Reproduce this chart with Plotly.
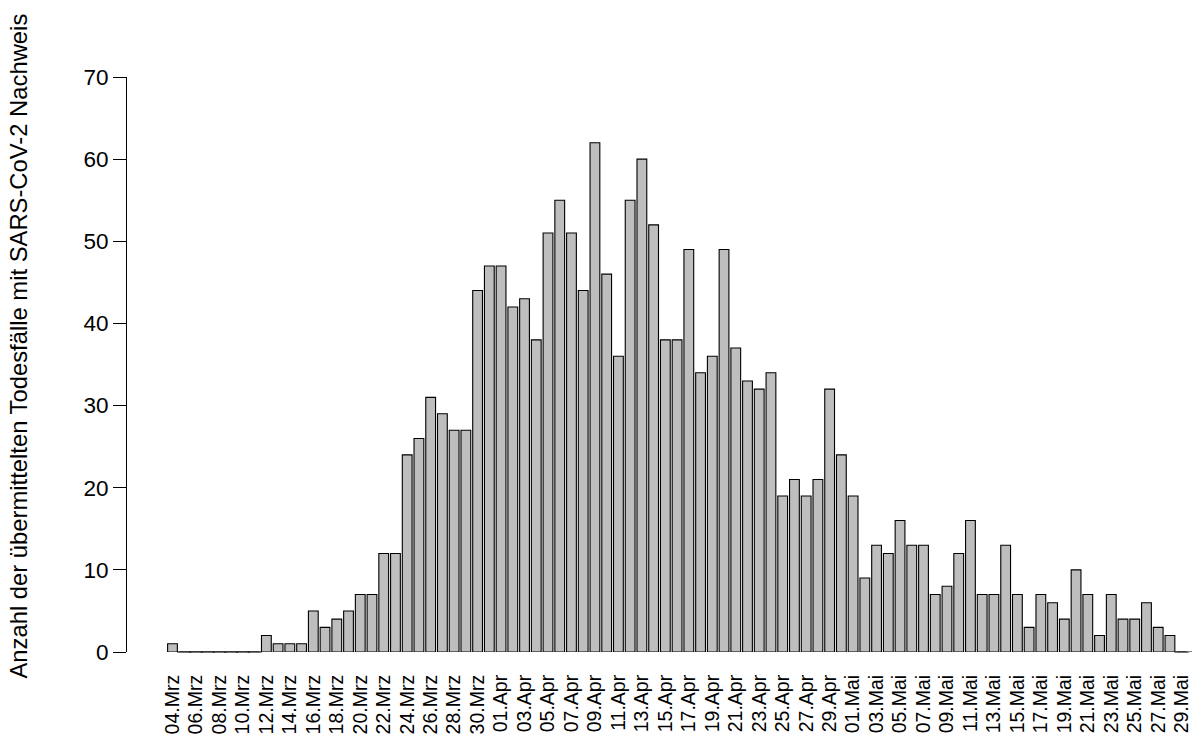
import plotly.graph_objects as go

# daily reported deaths with SARS-CoV-2, 04.03. - 30.05.
mrz_days = list(range(4, 32))
mrz_values = [1, 0, 0, 0, 0, 0, 0, 0, 2, 1, 1, 1, 5, 3, 4, 5, 7, 7, 12, 12,
              24, 26, 31, 29, 27, 27, 44, 47]
apr_days = list(range(1, 31))
apr_values = [47, 42, 43, 38, 51, 55, 51, 44, 62, 46, 36, 55, 60, 52, 38,
              38, 49, 34, 36, 49, 37, 33, 32, 34, 19, 21, 19, 21, 32, 24]
mai_days = list(range(1, 31))
mai_values = [19, 9, 13, 12, 16, 13, 13, 7, 8, 12, 16, 7, 7, 13, 7,
              3, 7, 6, 4, 10, 7, 2, 7, 4, 4, 6, 3, 2, 0, 0]

y_ticks = [0, 10, 20, 30, 40, 50, 60, 70]
y_title = "Anzahl der übermittelten Todesfälle mit SARS-CoV-2 Nachweis"

# build categories
labels = ([f"{d:02d}.Mrz" for d in mrz_days] +
          [f"{d:02d}.Apr" for d in apr_days] +
          [f"{d:02d}.Mai" for d in mai_days])
values = mrz_values + apr_values + mai_values
pos = list(range(len(values)))

# R barplot draws zero bars as flat lines
zero_pos = [p for p, v in zip(pos, values) if v == 0]
zero_val = [v for v in values if v == 0]

font = "Liberation Sans, Arial, sans-serif"

fig = go.Figure()
fig.add_trace(go.Bar(
    x=pos, y=values,
    width=0.833,
    marker=dict(color="#BEBEBE", line=dict(color="black", width=1.1)),
    cliponaxis=False,
    hovertext=labels,
))
fig.add_trace(go.Scatter(
    x=zero_pos, y=zero_val, mode="markers",
    marker=dict(symbol="line-ew", size=10, line=dict(color="black", width=1.1)),
    cliponaxis=False, hoverinfo="skip",
))

fig.update_layout(
    width=1192, height=743,
    margin=dict(l=127, r=0, t=77, b=90.5),
    plot_bgcolor="white", paper_bgcolor="white",
    showlegend=False,
    font=dict(family=font, size=22.5, color="black"),
    xaxis=dict(
        range=[-3.877, 86.88], automargin=False,
        tickmode="array", tickvals=pos[::2], ticktext=labels[::2],
        tickangle=-90, ticks="outside", ticklen=14,
        tickcolor="rgba(0,0,0,0)", showline=False, showgrid=False,
        zeroline=False, tickfont=dict(size=19.5),
        ticklabeloverflow="allow",
    ),
    yaxis=dict(
        range=[0, 70], automargin=False,
        tickmode="array", tickvals=y_ticks,
        ticks="outside", ticklen=13, tickwidth=1, tickcolor="black",
        showline=True, linecolor="black", linewidth=1,
        showgrid=False, zeroline=False,
    ),
    annotations=[dict(
        text=y_title, textangle=-90,
        xref="paper", yref="paper", x=-0.1019, y=0.532,
        xanchor="center", yanchor="middle", showarrow=False,
        font=dict(family=font, size=23.8, color="black"),
    )],
)

# drop the default page margin so the figure sits at the window corner
fig.write_html("out.html", config={"displayModeBar": False},
               post_script="document.body.style.margin='0';")
